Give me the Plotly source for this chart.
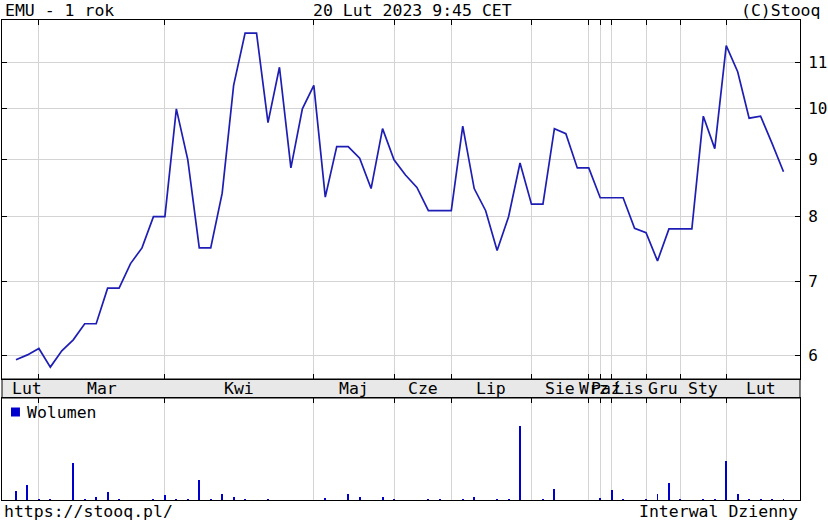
import plotly.graph_objects as go
from plotly.subplots import make_subplots

# ---- data ----
prices = [5.95, 6.01, 6.09, 5.86, 6.06, 6.20, 6.41, 6.41, 6.90, 6.90,
          7.26, 7.50, 8.00, 8.00, 10.0, 9.00, 7.50, 7.50, 8.40, 10.5,
          11.7, 11.7, 9.72, 10.9, 8.85, 10.0, 10.5, 8.33, 9.25, 9.25,
          9.03, 8.48, 9.60, 9.00, 8.72, 8.50, 8.10, 8.10, 8.10, 9.65,
          8.48, 8.10, 7.46, 8.00, 8.94, 8.21, 8.21, 9.60, 9.50, 8.85,
          8.85, 8.32, 8.32, 8.32, 7.81, 7.74, 7.30, 7.80, 7.80, 7.80,
          9.85, 9.21, 11.4, 10.8, 9.81, 9.85, 9.31, 8.78]
volumes = [90, 150, 15, 15, 0, 370, 15, 30, 80, 15,
           0, 0, 15, 47, 15, 15, 200, 15, 60, 30,
           15, 0, 15, 0, 0, 0, 0, 20, 0, 60,
           30, 0, 30, 15, 0, 0, 15, 15, 0, 15,
           30, 0, 15, 15, 740, 0, 15, 107, 0, 0,
           0, 20, 100, 15, 0, 15, 60, 170, 15, 0,
           15, 15, 390, 60, 15, 15, 15, 15]
month_names = ["Lut", "Mar", "Kwi", "Maj", "Cze", "Lip", "Sie", "Wrz",
               "Paź", "Lis", "Gru", "Sty", "Lut"]
month_starts = [2, 13, 26, 33, 38, 45, 50, 51, 52, 55, 58, 62]
y_ticks = [6, 7, 8, 9, 10, 11]

idx = list(range(len(prices)))

FONT = "DejaVu Sans Mono"
LINE_C = "#1e1eb4"
VOL_C = "#0000cc"
GRID_C = "#d4d4d4"

W, H = 828, 526
ML, MR, MT, MB = 1, 27, 20, 26
PH = H - MT - MB
PW = W - ML - MR
main_bottom = (H - MB - 379) / PH
vol_top = (H - MB - 398) / PH

fig = make_subplots(rows=2, cols=1)
fig.add_trace(go.Scatter(x=idx, y=prices, mode="lines",
                         line=dict(color=LINE_C, width=1.7),
                         showlegend=False, hoverinfo="skip"), row=1, col=1)
fig.add_trace(go.Bar(x=idx, y=volumes, width=0.17,
                     marker=dict(color=VOL_C, line=dict(width=0)),
                     showlegend=False, hoverinfo="skip"), row=2, col=1)

xr = [-1.22, 68.44]
common_x = dict(range=xr, tickvals=month_starts, showticklabels=False,
                ticks="inside", ticklen=5, tickcolor="black",
                showgrid=True, gridcolor=GRID_C, gridwidth=1,
                showline=True, linecolor="black", linewidth=1,
                zeroline=False, fixedrange=True)

fig.update_layout(
    width=W, height=H,
    margin=dict(l=ML, r=MR, t=MT, b=MB, pad=0),
    paper_bgcolor="white", plot_bgcolor="white",
    font=dict(family=FONT, size=16, color="black"),
    bargap=0,
    xaxis=dict(domain=[0, 1], anchor="y", mirror="ticks", **common_x),
    yaxis=dict(domain=[main_bottom, 1], anchor="x", type="log",
               range=[0.7572, 1.0799], side="right",
               tickvals=y_ticks, ticktext=[str(v) for v in y_ticks],
               ticks="inside", ticklen=5, tickcolor="black",
               showgrid=True, gridcolor=GRID_C, gridwidth=1,
               showline=True, linecolor="black", linewidth=1,
               mirror="ticks", zeroline=False, fixedrange=True,
               tickfont=dict(family=FONT, size=16), ticklabelstandoff=4),
    xaxis2=dict(domain=[0, 1], anchor="y2", side="top", mirror=True, **common_x),
    yaxis2=dict(domain=[0, vol_top], anchor="x2",
                range=[0, max(volumes) * 102 / 74],
                showticklabels=False, ticks="", showgrid=False,
                showline=True, linecolor="black", linewidth=1,
                mirror=True, zeroline=False, fixedrange=True),
)

# label strip between panels
fig.add_shape(type="rect", xref="paper", yref="paper",
              x0=0, x1=1, y0=vol_top, y1=main_bottom,
              fillcolor="#e8e8e8", line=dict(color="black", width=1),
              layer="below")

bounds = [0] + month_starts + [len(prices)]
strip_mid = (vol_top + main_bottom) / 2
for i, name in enumerate(month_names):
    fig.add_annotation(x=(bounds[i] + bounds[i + 1]) / 2, xref="x",
                       y=strip_mid, yref="paper", text=name, showarrow=False,
                       font=dict(family=FONT, size=16.5, color="black"),
                       xanchor="center", yanchor="middle")

# header / footer texts
def txt(x, y, s, anchor, yanchor):
    fig.add_annotation(x=x, y=y, xref="paper", yref="paper", text=s,
                       showarrow=False, xanchor=anchor, yanchor=yanchor,
                       font=dict(family=FONT, size=16.5, color="black"))

top_y = 1 + 10 / PH
bot_y = -12 / PH
txt((2 - ML) / PW, top_y, "EMU - 1 rok", "left", "middle")
txt((413 - ML) / PW, top_y, "20 Lut 2023 9:45 CET", "center", "middle")
txt((823 - ML) / PW, top_y, "(C)Stooq", "right", "middle")
txt((1 - ML) / PW, bot_y, "https://stooq.pl/", "left", "middle")
txt(1.0, bot_y, "Interwal Dzienny", "right", "middle")

# volume legend
leg_y = (H - MB - 412) / PH
fig.add_shape(type="rect", xref="paper", yref="paper",
              x0=(10 - ML) / PW, x1=(19 - ML) / PW,
              y0=leg_y - 4.5 / PH, y1=leg_y + 4.5 / PH,
              fillcolor=VOL_C, line=dict(width=0))
txt((24 - ML) / PW, leg_y, "Wolumen", "left", "middle")

fig.write_html("out.html",
               config={"displayModeBar": False, "staticPlot": True},
               post_script="document.body.style.margin='0';"
                           "document.body.style.overflow='hidden';")
